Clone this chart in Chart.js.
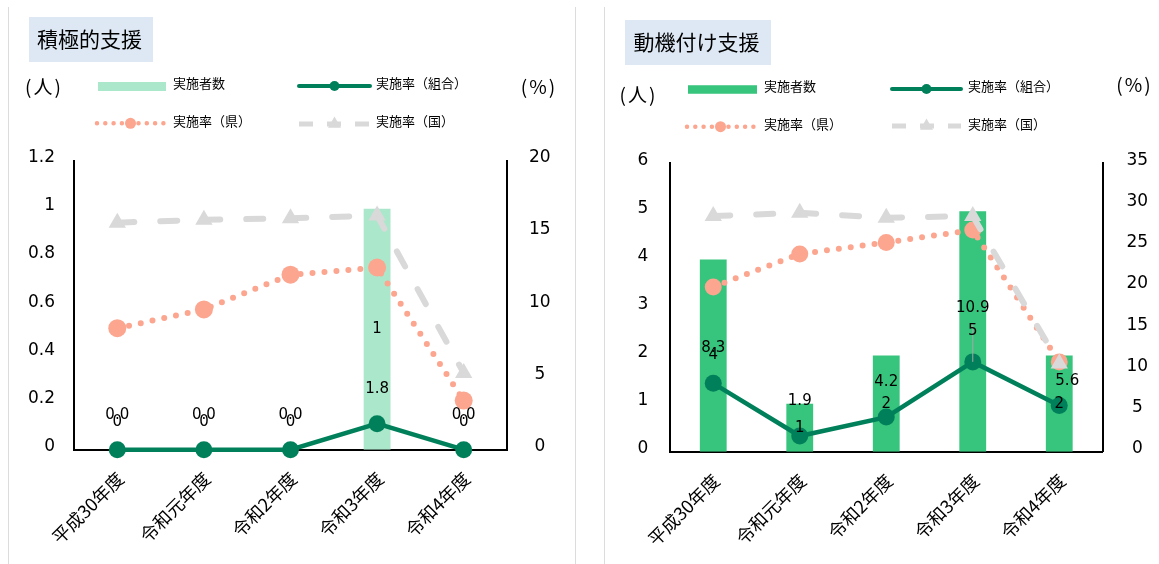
<!DOCTYPE html>
<html>
<head>
<meta charset="utf-8">
<script src="https://cdn.jsdelivr.net/npm/chart.js@4/dist/chart.umd.min.js"></script>
<style>
  html, body { margin: 0; padding: 0; background: #fff; }
  #wrap { position: relative; width: 1159px; height: 564px; overflow: hidden; background: #fff; }
  .panel { position: absolute; top: 0; height: 564px; }
  #p1 { left: 0; width: 580px; }
  #p2 { left: 580px; width: 579px; }
  .frame { position: absolute; top: 7px; bottom: 0; width: 1px; background: #dcdcdc; }
</style>
</head>
<body>
<div id="wrap">
  <div class="panel" id="p1"><canvas id="c1" width="580" height="564"></canvas></div>
  <div class="panel" id="p2"><canvas id="c2" width="579" height="564"></canvas></div>
  <div class="frame" style="left:8px"></div>
  <div class="frame" style="left:575px"></div>
  <div class="frame" style="left:604px"></div>
</div>
<script>
// ---- data ----
const categories = ['平成30年度', '令和元年度', '令和2年度', '令和3年度', '令和4年度'];

// 積極的支援
const activeCount      = [0, 0, 0, 1, 0];
const activeRateUnion  = [0.0, 0.0, 0.0, 1.8, 0.0];
const activeRatePref   = [8.4, 9.7, 12.1, 12.6, 3.4];
const activeRateNation = [15.7, 15.9, 16.0, 16.2, 5.3];
const activeCountTicks = [0, 0.2, 0.4, 0.6, 0.8, 1, 1.2];
const activeRateTicks  = [0, 5, 10, 15, 20];

// 動機付け支援
const motivCount      = [4, 1, 2, 5, 2];
const motivRateUnion  = [8.3, 1.9, 4.2, 10.9, 5.6];
const motivRatePref   = [20.0, 24.0, 25.4, 26.9, 10.9];
const motivRateNation = [28.6, 29.0, 28.4, 28.6, 10.7];
const motivCountTicks = [0, 1, 2, 3, 4, 5, 6];
const motivRateTicks  = [0, 5, 10, 15, 20, 25, 30, 35];

// ---- styling ----
const UNION = '#00805A';
const PREF = '#FCA58F';
const NATION = '#D9D9D9';
const NUM_FONT = '"DejaVu Sans", Verdana, sans-serif';
const JP_FONT = '"Noto Sans CJK JP", "Noto Sans", sans-serif';

// Title box, unit captions and the two-row legend above the plot
const panelDecor = {
  id: 'panelDecor',
  beforeDraw(chart, args, o) {
    const ctx = chart.ctx;
    ctx.save();
    ctx.fillStyle = '#DDE8F4';
    ctx.fillRect(o.box.x, o.box.y, o.box.w, o.box.h);
    ctx.fillStyle = '#000';
    ctx.textBaseline = 'middle';
    ctx.textAlign = 'left';
    ctx.font = '21px ' + JP_FONT;
    ctx.fillText(o.title, o.titleAt.x, o.titleAt.y);

    ctx.font = '19px ' + JP_FONT;
    ctx.textAlign = 'center';
    if ('letterSpacing' in ctx) ctx.letterSpacing = '2px';
    ctx.fillText('(人)', o.unitL.x, o.unitL.y);
    ctx.fillText('(%)', o.unitR.x, o.unitR.y);
    if ('letterSpacing' in ctx) ctx.letterSpacing = '0px';

    o.legend.forEach(item => {
      const ds = chart.data.datasets.find(d => d.key === item.key);
      ctx.save();
      if (ds.type === 'bar') {
        ctx.fillStyle = ds.backgroundColor;
        ctx.fillRect(item.x, item.y - item.h / 2, item.w, item.h);
      } else {
        ctx.strokeStyle = ds.borderColor;
        ctx.lineWidth = item.lw;
        ctx.lineCap = item.cap;
        ctx.setLineDash(item.dash);
        ctx.beginPath();
        ctx.moveTo(item.x, item.y);
        ctx.lineTo(item.x + item.w, item.y);
        ctx.stroke();
        ctx.setLineDash([]);
        ctx.fillStyle = ds.pointBackgroundColor;
        const mx = item.x + item.w / 2;
        ctx.beginPath();
        if (ds.pointStyle === 'triangle') {
          const r = item.r;
          ctx.moveTo(mx, item.y - r);
          ctx.lineTo(mx + r * 0.866, item.y + r * 0.5);
          ctx.lineTo(mx - r * 0.866, item.y + r * 0.5);
          ctx.closePath();
        } else {
          ctx.arc(mx, item.y, item.r, 0, Math.PI * 2);
        }
        ctx.fill();
      }
      ctx.restore();
      ctx.font = '13px ' + JP_FONT;
      ctx.fillStyle = '#000';
      ctx.textAlign = 'left';
      ctx.fillText(ds.label, item.tx, item.ty);
    });
    ctx.restore();
  }
};

// Value labels: counts centred in their bars, union rates above their points
const valueLabels = {
  id: 'valueLabels',
  afterDatasetsDraw(chart, args, o) {
    const ctx = chart.ctx;
    ctx.save();
    ctx.font = '15px ' + NUM_FONT;
    ctx.fillStyle = '#000';
    ctx.textAlign = 'center';
    ctx.textBaseline = 'middle';
    chart.data.datasets.forEach((ds, di) => {
      if (!ds.valueLabel) return;
      const meta = chart.getDatasetMeta(di);
      meta.data.forEach((el, i) => {
        const v = ds.data[i];
        if (ds.valueLabel === 'count') {
          const p = el.getProps(['x', 'y', 'base'], true);
          const y = (p.base - p.y) < 1 ? p.base - o.zeroLift : (p.y + p.base) / 2;
          ctx.fillText(String(v), p.x, y);
        } else {
          const s = (o.shifts && o.shifts[i]) || { dx: 0, dy: 0 };
          const lx = el.x + s.dx;
          const ly = el.y - o.rise + s.dy;
          if (s.leader) {
            ctx.save();
            ctx.strokeStyle = '#A6A6A6';
            ctx.lineWidth = 1;
            ctx.beginPath();
            ctx.moveTo(el.x, ly + 16);
            ctx.lineTo(el.x, el.y);
            ctx.stroke();
            ctx.restore();
          }
          ctx.fillText(v.toFixed(1), lx, ly);
        }
      });
    });
    ctx.restore();
  }
};

function fixedTicks(values) {
  return scale => { scale.ticks = values.map(v => ({ value: v })); };
}

function buildPanel(canvasId, p) {
  return new Chart(document.getElementById(canvasId), {
    type: 'bar',
    data: {
      labels: categories,
      datasets: [
        {
          key: 'union', type: 'line', label: '実施率（組合）', data: p.union, yAxisID: 'yR', order: 0,
          borderColor: UNION, backgroundColor: UNION, borderWidth: 4.5, tension: 0,
          pointRadius: 8.5, pointBackgroundColor: UNION, pointBorderWidth: 0, pointHoverRadius: 8.5,
          clip: false, valueLabel: 'rate'
        },
        {
          key: 'nation', type: 'line', label: '実施率（国）', data: p.nation, yAxisID: 'yR', order: 1,
          borderColor: NATION, backgroundColor: NATION, borderWidth: 6, borderDash: [17, 26],
          borderCapStyle: 'round', tension: 0,
          pointStyle: 'triangle', pointRadius: 10, pointBackgroundColor: NATION, pointBorderWidth: 0,
          pointHoverRadius: 10, clip: false
        },
        {
          key: 'pref', type: 'line', label: '実施率（県）', data: p.pref, yAxisID: 'yR', order: 2,
          borderColor: PREF, backgroundColor: PREF, borderWidth: 6, borderDash: [0, 12],
          borderCapStyle: 'round', tension: 0,
          pointRadius: p.prefR, pointBackgroundColor: PREF, pointBorderWidth: 0, pointHoverRadius: p.prefR,
          clip: false
        },
        {
          key: 'count', type: 'bar', label: '実施者数', data: p.count, yAxisID: 'yL', order: 3,
          backgroundColor: p.barColor, barPercentage: 0.31, categoryPercentage: 1,
          valueLabel: 'count'
        }
      ]
    },
    options: {
      responsive: false,
      animation: false,
      devicePixelRatio: 1,
      events: [],
      layout: { padding: { top: p.area.top, left: 0, right: 0, bottom: 0 } },
      plugins: {
        legend: { display: false },
        tooltip: { enabled: false },
        panelDecor: p.decor,
        valueLabels: p.labels
      },
      scales: {
        x: {
          offset: true,
          grid: { display: false, drawTicks: false },
          border: { display: true, color: '#000', width: 2 },
          ticks: {
            autoSkip: false, minRotation: 45, maxRotation: 45,
            padding: 18, labelOffset: 3,
            color: '#000', font: { family: JP_FONT, size: 18 }
          },
          afterFit: s => { s.height = p.area.bottom; }
        },
        yL: {
          type: 'linear', axis: 'y', position: 'left',
          min: p.countTicks[0], max: p.countTicks[p.countTicks.length - 1],
          afterBuildTicks: fixedTicks(p.countTicks),
          grid: { display: false, drawTicks: false },
          border: { display: true, color: '#000', width: 2 },
          ticks: {
            crossAlign: 'near', padding: p.pad.l, labelOffset: -3,
            color: '#000', font: { family: NUM_FONT, size: 17 },
            callback: v => String(Math.round(v * 10) / 10)
          },
          afterFit: s => { s.width = p.area.left; }
        },
        yR: {
          type: 'linear', axis: 'y', position: 'right',
          min: p.rateTicks[0], max: p.rateTicks[p.rateTicks.length - 1],
          afterBuildTicks: fixedTicks(p.rateTicks),
          grid: { display: false, drawTicks: false },
          border: { display: true, color: '#000', width: 2 },
          ticks: {
            crossAlign: 'center', padding: p.pad.r, labelOffset: -3,
            color: '#000', font: { family: NUM_FONT, size: 17 },
            callback: v => String(v)
          },
          afterFit: s => { s.width = p.area.right; }
        }
      }
    },
    plugins: [panelDecor, valueLabels]
  });
}

buildPanel('c1', {
  count: activeCount, union: activeRateUnion, pref: activeRatePref, nation: activeRateNation,
  countTicks: activeCountTicks, rateTicks: activeRateTicks,
  barColor: '#ABE7CB', prefR: 9,
  area: { left: 74, right: 73, top: 160.5, bottom: 114.3 },
  pad: { l: 19, r: 22 },
  labels: { rise: 35, zeroLift: 28 },
  decor: {
    title: '積極的支援',
    box: { x: 29, y: 17, w: 124, h: 45 },
    titleAt: { x: 37, y: 39.5 },
    unitL: { x: 44, y: 87 },
    unitR: { x: 539, y: 87 },
    legend: [
      { key: 'count', x: 98, y: 86.5, w: 68, h: 9, tx: 173, ty: 83 },
      { key: 'union', x: 299, y: 86, w: 71, lw: 4, cap: 'round', dash: [], r: 5, tx: 376, ty: 83 },
      { key: 'pref', x: 97, y: 123.3, w: 67, lw: 4.5, cap: 'round', dash: [0, 8.3], r: 5.5, tx: 173, ty: 121 },
      { key: 'nation', x: 299, y: 124, w: 71, lw: 5, cap: 'butt', dash: [14, 14], r: 7.5, tx: 376, ty: 121 }
    ]
  }
});

buildPanel('c2', {
  count: motivCount, union: motivRateUnion, pref: motivRatePref, nation: motivRateNation,
  countTicks: motivCountTicks, rateTicks: motivRateTicks,
  barColor: '#37C47D', prefR: 8.5,
  area: { left: 90, right: 56.5, top: 163.3, bottom: 112.3 },
  pad: { l: 21.7, r: 24 },
  labels: {
    rise: 35, zeroLift: 28,
    shifts: { 3: { dx: 0, dy: -19, leader: true }, 4: { dx: 8, dy: 11 } }
  },
  decor: {
    title: '動機付け支援',
    box: { x: 45, y: 20, w: 146, h: 45 },
    titleAt: { x: 53.5, y: 42 },
    unitL: { x: 58.5, y: 95 },
    unitR: { x: 554.5, y: 85 },
    legend: [
      { key: 'count', x: 108, y: 89.5, w: 69, h: 8.5, tx: 184, ty: 86 },
      { key: 'union', x: 312, y: 89, w: 69, lw: 4, cap: 'round', dash: [], r: 5, tx: 388, ty: 86 },
      { key: 'pref', x: 107, y: 126.7, w: 67, lw: 4.5, cap: 'round', dash: [0, 8.3], r: 5.5, tx: 184, ty: 124 },
      { key: 'nation', x: 312, y: 126, w: 69, lw: 5, cap: 'butt', dash: [14, 14], r: 7.5, tx: 388, ty: 124 }
    ]
  }
});
</script>
</body>
</html>
